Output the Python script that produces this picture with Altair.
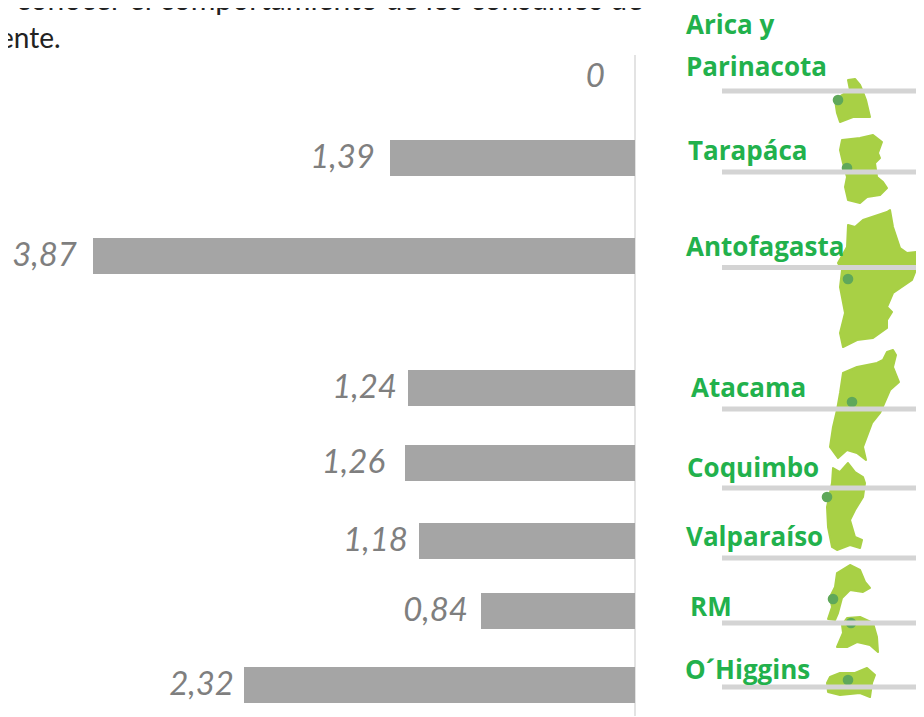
import altair as alt
import pandas as pd

# bars
row_y = [158, 256, 388, 463, 541, 611, 685]
values = [1.39, 3.87, 1.24, 1.26, 1.18, 0.84, 2.32]
value_text = ["1,39", "3,87", "1,24", "1,26", "1,18", "0,84", "2,32"]
label_gap = [15, 16, 11, 20, 11, 13, 10]
zero_text = "0"

# the source's bar lengths are not proportional: piecewise value scale
scale_stops = [0, 0.84, 1.18, 1.24, 1.26, 1.39, 2.32, 3.87]
scale_pixels = [635, 481, 419, 408, 405, 390, 244, 93]

# region labels
region_text = ["Arica y", "Parinacota", "Tarapáca", "Antofagasta", "Atacama",
               "Coquimbo", "Valparaíso", "RM", "O´Higgins"]
region_x = [686, 686, 688, 686, 691, 687, 686, 690, 685]
region_y = [34, 76, 160, 256, 397, 477, 546, 616, 679]

# grey guide lines
guide_y = [91, 172, 267.5, 409, 488, 558, 623, 687]
guide_end = [924, 924, 924, 924, 924, 922, 924, 919]

# capital dots
dot_x = [838, 847, 848, 852, 827, 833, 851, 848]
dot_y = [100, 168, 279, 402, 497, 599, 623, 680]

# map outlines
outlines = [
    [(848,80),(855,79),(860,85),(863,92),(866,100),(870,117),(853,117),(840,122),(837,113),(835,100),(842,95),(850,90)],
    [(842,140),(860,138),(873,135),(882,142),(878,153),(880,158),(875,163),(877,177),(883,182),(887,188),(880,195),(867,197),(860,203),(848,200),(845,187),(847,177),(843,163),(840,150)],
    [(848,225),(855,227),(863,220),(887,212),(890,210),(893,227),(900,248),(907,253),(917,252),(921,258),(917,267),(912,280),(893,293),(887,307),(892,312),(887,320),(887,328),(873,338),(857,340),(843,347),(840,333),(845,313),(840,287),(842,270),(838,263),(847,247)],
    [(887,352),(893,350),(896,355),(893,367),(899,382),(890,390),(880,413),(872,423),(863,447),(866,460),(857,453),(847,450),(838,458),(830,447),(833,427),(837,410),(840,393),(843,373),(857,367),(877,363),(883,360)],
    [(833,468),(840,472),(848,463),(855,472),(863,477),(865,483),(863,497),(855,510),(850,520),(855,537),(862,540),(860,548),(850,545),(837,550),(832,547),(828,527),(827,507),(832,483)],
    [(837,573),(850,565),(860,570),(865,582),(870,588),(863,592),(850,590),(842,598),(838,613),(835,620),(828,619),(832,607),(830,597),(835,587)],
    [(847,618),(860,617),(873,623),(877,637),(878,652),(870,645),(857,642),(847,647),(837,647),(843,633),(842,625)],
    [(830,677),(840,673),(855,673),(867,668),(875,675),(872,683),(870,697),(860,693),(840,695),(828,692),(827,683)],
]

body_lines = ["o conocer el comportamiento de los consumos de", "ente."]

GREY = "#A5A5A5"
GREEN = "#22B14C"
W, H = 908, 709
page_x = alt.Scale(domain=[8, 8 + W], range=[0, W], zero=False, nice=False, padding=0)
page_y = alt.Scale(domain=[8, 8 + H], range=[0, H], zero=False, nice=False, padding=0)
value_x = alt.Scale(domain=scale_stops, range=[p - 8 for p in scale_pixels], zero=False, nice=False, padding=0)

features = [
    {"type": "Feature", "properties": {},
     "geometry": {"type": "Polygon", "coordinates": [[list(p) for p in o] + [list(o[0])]]}}
    for o in outlines
]

bars = pd.DataFrame({"value": values, "row": row_y})

layers = []

# axis line
layers.append(
    alt.Chart(pd.DataFrame({"x": [635], "y": [55], "y2": [716]}))
    .mark_rule(color="#DADADA", strokeWidth=1.5)
    .encode(x=alt.X("x:Q", scale=page_x, axis=None),
            y=alt.Y("y:Q", scale=page_y, axis=None), y2="y2:Q")
)

# bars
layers.append(
    alt.Chart(bars)
    .mark_bar(color=GREY, size=36, orient="horizontal")
    .encode(x=alt.X("value:Q", scale=value_x, axis=None),
            y=alt.Y("row:Q", scale=page_y, axis=None))
)

# value labels
for v, t, g, r in zip(values, value_text, label_gap, row_y):
    layers.append(
        alt.Chart(pd.DataFrame({"value": [v], "row": [r], "t": [t]}))
        .mark_text(font="Lato", fontStyle="italic", fontSize=33, color="#7F7F7F",
                   align="right", baseline="middle", dx=-g)
        .encode(x=alt.X("value:Q", scale=value_x, axis=None),
                y=alt.Y("row:Q", scale=page_y, axis=None), text="t:N")
    )
layers.append(
    alt.Chart(pd.DataFrame({"value": [0], "row": [77], "t": [zero_text]}))
    .mark_text(font="Lato", fontStyle="italic", fontSize=33, color="#7F7F7F",
               align="right", baseline="middle", dx=-30)
    .encode(x=alt.X("value:Q", scale=value_x, axis=None),
            y=alt.Y("row:Q", scale=page_y, axis=None), text="t:N")
)

# map
layers.append(
    alt.Chart(alt.Data(values=features))
    .mark_geoshape(fill="#A8D045", stroke="#A8D045", strokeWidth=2, strokeJoin="round")
    .project(type="identity", scale=1, translate=[-8, -8])
)

# dots
layers.append(
    alt.Chart(pd.DataFrame({"x": dot_x, "y": dot_y}))
    .mark_circle(color="#5FA85A", size=113, opacity=1)
    .encode(x=alt.X("x:Q", scale=page_x, axis=None),
            y=alt.Y("y:Q", scale=page_y, axis=None))
)

# guides
layers.append(
    alt.Chart(pd.DataFrame({"y": guide_y, "x": [722] * len(guide_y), "x2": guide_end}))
    .mark_rule(color="#D4D4D4", strokeWidth=5)
    .encode(x=alt.X("x:Q", scale=page_x, axis=None), x2="x2:Q",
            y=alt.Y("y:Q", scale=page_y, axis=None))
)

# region names
layers.append(
    alt.Chart(pd.DataFrame({"x": region_x, "y": region_y, "t": region_text}))
    .mark_text(font="Open Sans", fontWeight="bold", fontSize=26, color=GREEN,
               align="left", baseline="alphabetic")
    .encode(x=alt.X("x:Q", scale=page_x, axis=None),
            y=alt.Y("y:Q", scale=page_y, axis=None), text="t:N")
)

# body text
layers.append(
    alt.Chart(pd.DataFrame({"x": [643], "y": [10], "t": [body_lines[0]]}))
    .mark_text(font="Lato", fontSize=30, color="#222222", align="right", baseline="alphabetic")
    .encode(x=alt.X("x:Q", scale=page_x, axis=None),
            y=alt.Y("y:Q", scale=page_y, axis=None), text="t:N")
)
layers.append(
    alt.Chart(pd.DataFrame({"x": [-1], "y": [48], "t": [body_lines[1]]}))
    .mark_text(font="Lato", fontSize=28, color="#222222", align="left", baseline="alphabetic")
    .encode(x=alt.X("x:Q", scale=page_x, axis=None),
            y=alt.Y("y:Q", scale=page_y, axis=None), text="t:N")
)

chart = (
    alt.layer(*layers)
    .resolve_scale(x="independent", y="independent")
    .properties(width=W, height=H, padding=0, autosize=alt.AutoSizeParams(type="none"))
    .configure_view(stroke=None)
)
chart.save("out.html", embed_options={"renderer": "svg", "actions": False})
